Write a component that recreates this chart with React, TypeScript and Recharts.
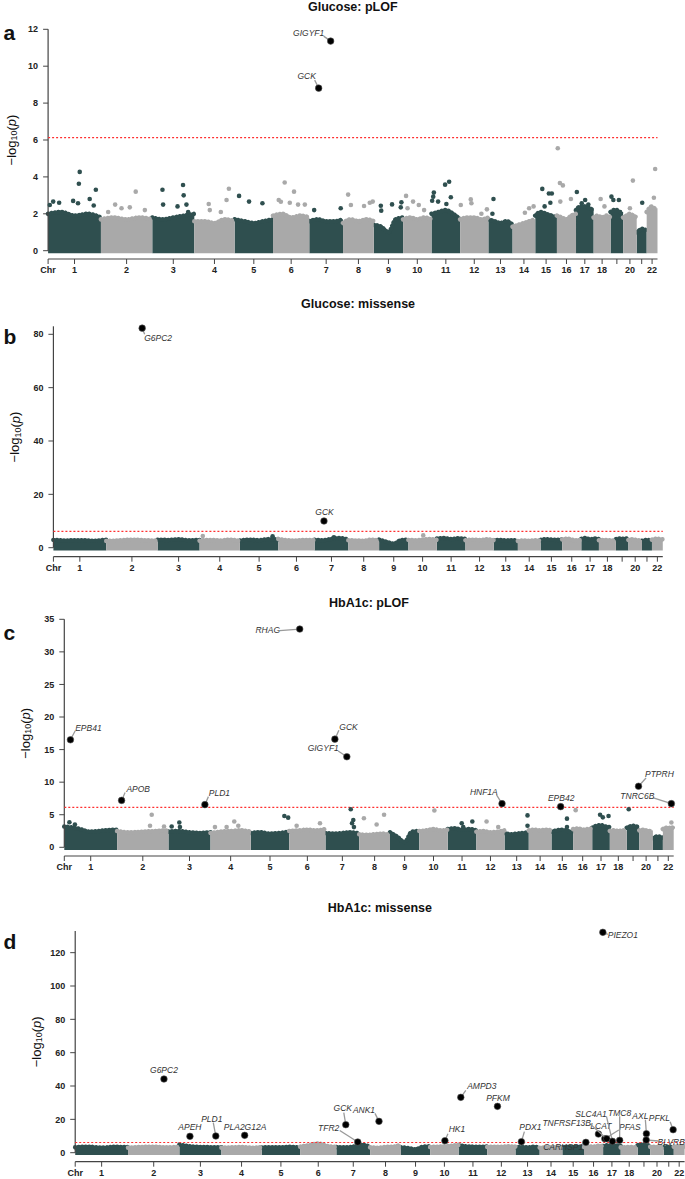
import React from 'react'
import { Area, ComposedChart, ReferenceLine, Scatter, XAxis, YAxis } from 'recharts'

const FONT = '"Liberation Sans", Arial, sans-serif'
const DARK = '#2f4f4f'
const GRAY = '#a9a9a9'
const AXIS = '#444'

const chromosomes = ['1', '2', '3', '4', '5', '6', '7', '8', '9', '10', '11', '12', '13', '14', '15', '16', '17', '18', '19', '20', '21', '22']
const chromLengthsMb = [249, 242, 198, 190, 181, 171, 159, 145, 138, 134, 135, 133, 114, 107, 102, 90, 83, 80, 59, 64, 47, 51]
const hiddenChromLabels = ['19', '21']
const thresholdLog10P = 6.13

// a: Glucose pLOF — top of the dense cloud per chromosome (5 samples along each)
const glucosePlofProfile = [
  [2.0, 2.1, 1.9, 2.0, 1.8], [1.7, 1.8, 1.7, 1.8, 1.7], [1.8, 1.7, 1.8, 1.9, 2.0], [1.6, 1.6, 1.5, 1.7, 1.6],
  [1.7, 1.6, 1.5, 1.6, 1.7], [1.9, 2.0, 1.8, 1.9, 1.8], [1.6, 1.7, 1.6, 1.6, 1.7], [1.5, 1.7, 1.6, 1.7, 1.6],
  [1.4, 1.3, 1.0, 1.7, 1.8], [1.7, 1.8, 1.7, 1.8, 1.7], [2.0, 2.1, 2.2, 2.0, 1.7], [1.7, 1.8, 1.8, 1.7, 1.8],
  [1.7, 1.6, 1.5, 1.6, 1.4], [1.3, 1.4, 1.5, 1.6, 1.7], [1.9, 2.1, 2.0, 1.9, 1.8], [1.9, 1.8, 1.7, 1.9, 2.0],
  [2.2, 2.4, 2.4, 2.3, 2.2], [1.8, 1.9, 1.8, 1.9, 1.8], [2.1, 2.2, 2.2, 2.1, 2.1], [1.8, 1.9, 2.0, 1.9, 1.8],
  [1.0, 1.1, 1.2, 1.1, 1.2], [2.1, 2.3, 2.4, 2.3, 2.3],
]
const glucosePlofOutliers: [number, number][] = [
  [149, 4.27], [145, 3.63], [141, 2.57], [196, 2.8], [225, 3.3], [215, 2.45], [24, 2.66], [52, 2.6], [118, 2.7], [8, 2.48],
  [413, 3.2], [316, 2.5], [346, 2.3], [385, 2.35], [456, 2.2], [283, 2.1],
  [539, 3.3], [542, 2.5], [636, 3.56], [639, 3.0], [652, 2.5], [660, 2.1], [610, 2.4],
  [852, 3.36], [841, 2.75], [757, 2.53], [762, 2.2], [814, 2.1],
  [900, 2.97], [947, 2.66], [1010, 2.57],
  [1115, 3.7], [1159, 3.2], [1087, 2.75], [1097, 2.65], [1139, 2.6], [1178, 2.5], [1210, 2.5],
  [1379, 2.3], [1254, 2.2],
  [1414, 3.04], [1427, 2.48], [1489, 2.42], [1516, 2.6], [1530, 2.66],
  [1568, 2.44], [1570, 2.17], [1621, 2.51], [1665, 2.62], [1662, 2.35],
  [1687, 2.97], [1720, 2.66], [1747, 2.48], [1694, 2.3], [1772, 2.2],
  [1890, 3.74], [1871, 3.58], [1818, 3.15], [1815, 2.93], [1838, 2.66], [1877, 2.53], [1898, 2.9], [1810, 2.71],
  [1945, 2.48], [1992, 2.78], [1995, 2.57], [2068, 2.24], [2042, 2.0],
  [2099, 2.8], [2094, 2.0],
  [2267, 2.3], [2288, 2.4], [2247, 2.06],
  [2329, 3.35], [2360, 3.1], [2374, 3.1], [2367, 2.6], [2340, 2.4],
  [2402, 5.55], [2412, 3.67], [2426, 3.54], [2414, 2.66], [2464, 2.8],
  [2492, 3.18], [2531, 2.75], [2546, 2.5], [2515, 2.57],
  [2604, 2.8], [2622, 2.4],
  [2655, 2.93], [2664, 2.75], [2690, 2.75],
  [2756, 3.8], [2742, 2.3],
  [2800, 2.6],
  [2861, 4.43], [2855, 2.87],
]
const glucosePlofHits: [string, number, number][] = [
  ['GIGYF1', 1331.6, 11.36],
  ['GCK', 1275.2, 8.81],
]

// b: Glucose missense
const glucoseMissenseProfile = [
  [2.9, 2.7, 2.8, 2.6, 3.0], [2.5, 2.7, 3.0, 2.8, 2.6], [3.0, 2.9, 3.1, 2.8, 2.9], [2.6, 2.9, 2.7, 3.0, 2.5],
  [2.7, 3.0, 2.8, 3.2, 3.0], [3.3, 2.8, 2.7, 2.9, 2.8], [3.0, 2.8, 3.3, 3.6, 3.0], [2.8, 2.7, 2.6, 3.0, 2.6],
  [3.0, 2.2, 1.5, 2.8, 3.0], [2.9, 2.8, 3.0, 3.2, 2.9], [3.4, 3.6, 3.2, 3.5, 3.3], [2.8, 3.0, 2.9, 3.1, 2.8],
  [2.8, 2.9, 2.7, 2.8, 2.6], [2.5, 2.7, 2.6, 2.8, 2.6], [2.9, 3.2, 3.0, 2.9, 3.1], [3.1, 3.4, 3.0, 2.8, 2.9],
  [3.3, 3.6, 3.1, 3.4, 3.2], [2.8, 2.9, 2.8, 2.7, 2.8], [3.2, 3.4, 3.3, 3.5, 3.0], [2.9, 3.1, 3.0, 2.8, 2.9],
  [2.6, 2.8, 2.9, 2.8, 2.7], [3.0, 3.3, 3.4, 3.2, 3.1],
]
const glucoseMissenseOutliers: [number, number][] = [
  [704, 4.4], [1033, 4.3], [1743, 4.6], [1322, 3.9],
]
const glucoseMissenseHits: [string, number, number][] = [
  ['G6PC2', 418.3, 82.3],
  ['GCK', 1275.2, 10.0],
]

// c: HbA1c pLOF
const hba1cPlofProfile = [
  [3.2, 2.9, 2.4, 2.6, 2.7], [2.5, 2.3, 2.4, 2.5, 2.6], [2.4, 2.5, 2.3, 2.2, 2.3], [2.2, 2.4, 2.5, 2.6, 2.4],
  [2.2, 2.3, 2.1, 2.2, 2.4], [2.5, 2.6, 2.7, 2.6, 2.8], [2.2, 2.1, 2.2, 2.3, 2.1], [2.0, 1.9, 2.0, 2.1, 1.9],
  [2.3, 1.6, 0.8, 2.4, 2.5], [2.5, 2.6, 2.8, 2.6, 2.7], [2.8, 2.9, 2.7, 2.8, 2.6], [2.4, 2.5, 2.3, 2.4, 2.6],
  [2.2, 2.0, 2.1, 2.2, 2.3], [2.6, 2.7, 2.6, 2.7, 2.6], [2.4, 2.6, 2.7, 2.5, 2.4], [2.8, 2.9, 2.7, 2.8, 2.9],
  [3.0, 3.3, 3.4, 3.2, 3.1], [2.5, 2.6, 2.5, 2.6, 2.5], [3.0, 3.2, 3.3, 3.2, 3.0], [2.6, 2.7, 2.6, 2.5, 2.6],
  [1.4, 1.6, 1.7, 1.6, 1.5], [2.8, 3.0, 2.9, 3.1, 2.9],
]
const hba1cPlofOutliers: [number, number][] = [
  [24, 3.85], [50, 3.5],
  [412, 5.0], [404, 3.3], [470, 3.2],
  [506, 3.2], [542, 3.8], [545, 3.1],
  [801, 3.95], [765, 3.1], [710, 3.1], [820, 3.3],
  [1037, 4.8], [1055, 4.55],
  [1205, 3.7], [1095, 3.3],
  [1350, 5.85], [1362, 4.2], [1356, 3.7], [1365, 3.1],
  [1412, 4.45], [1472, 3.5], [1507, 5.0],
  [1744, 5.65],
  [1873, 3.7], [1923, 3.95], [1880, 3.1],
  [1990, 3.95], [2045, 3.1],
  [2183, 4.9], [2183, 3.3],
  [2369, 4.4], [2369, 3.1],
  [2410, 5.7],
  [2525, 5.0], [2538, 4.6], [2565, 4.8],
  [2660, 5.85],
  [2861, 3.8],
]
const hba1cPlofHits: [string, number, number][] = [
  ['RHAG', 1109.6, 33.5],
  ['EPB41', 28.9, 16.5],
  ['GCK', 1275.2, 16.6],
  ['GIGYF1', 1331.6, 13.9],
  ['APOB', 270.0, 7.2],
  ['PLD1', 662.6, 6.55],
  ['HNF1A', 2062.9, 6.7],
  ['EPB42', 2339.2, 6.24],
  ['PTPRH', 2706.2, 9.37],
  ['TNRC6B', 2861.0, 6.7],
]

// d: HbA1c missense
const hba1cMissenseProfile = [
  [3.2, 3.6, 3.0, 3.5, 3.3], [3.0, 3.4, 3.6, 3.2, 3.5], [4.8, 3.8, 3.4, 3.3, 3.2], [3.0, 3.2, 3.4, 3.0, 3.3],
  [3.1, 3.3, 3.2, 3.5, 3.0], [3.6, 4.5, 5.5, 4.0, 3.5], [3.4, 3.2, 3.6, 4.8, 3.4], [3.2, 3.0, 3.5, 3.6, 5.0],
  [3.3, 2.8, 2.0, 3.5, 3.8], [3.4, 3.6, 3.8, 4.2, 4.6], [4.6, 3.8, 3.6, 3.5, 3.7], [3.4, 3.6, 3.5, 3.8, 3.6],
  [3.3, 3.4, 3.2, 3.5, 3.3], [3.0, 3.2, 3.3, 3.4, 3.2], [3.3, 3.6, 3.4, 3.5, 3.3], [3.5, 3.8, 3.6, 4.2, 3.8],
  [4.0, 4.5, 4.2, 4.3, 4.0], [3.2, 3.3, 3.4, 3.3, 3.2], [4.5, 4.8, 5.0, 4.6, 4.2], [3.5, 3.6, 3.4, 3.5, 3.6],
  [3.2, 3.4, 3.5, 3.3, 3.2], [3.6, 3.8, 3.9, 3.8, 3.7],
]
const hba1cMissenseOutliers: [number, number][] = []
const hba1cMissenseHits: [string, number, number][] = [
  ['PIEZO1', 2486.7, 132.2],
  ['G6PC2', 418.3, 44.2],
  ['APEH', 540.7, 9.8],
  ['PLD1', 662.6, 10.0],
  ['PLA2G12A', 798.7, 10.4],
  ['GCK', 1275.2, 16.8],
  ['ANK1', 1431.7, 18.8],
  ['TFR2', 1331.6, 6.4],
  ['HK1', 1742.4, 7.2],
  ['AMPD3', 1817.3, 33.2],
  ['PFKM', 1990.1, 27.8],
  ['PDX1', 2102.9, 6.6],
  ['CARHSP1', 2406.9, 6.2],
  ['LCAT', 2465.9, 11.2],
  ['PFAS', 2496.0, 8.4],
  ['TNFRSF13B', 2505.0, 8.4],
  ['SLC4A1', 2532.0, 6.8],
  ['TMC8', 2566.0, 7.4],
  ['AXL', 2692.0, 11.4],
  ['BLVRB', 2691.0, 7.6],
  ['PFKL', 2818.0, 13.8],
]

// label text offset [dx, dy] and connector start [cdx, cdy], px from the point
const labelPlacement: Record<string, number[]> = {
  'a:GIGYF1': [-22, -8, -7, -5],
  'a:GCK': [-12, -12, -4, -8],
  'b:G6PC2': [16, 9.5, 2.5, 6],
  'b:GCK': [0.5, -9.5],
  'c:RHAG': [-32, 1.3, -20, 1.5],
  'c:EPB41': [18, -12, 4.8, -9],
  'c:GCK': [13.7, -12.3, 4, -9],
  'c:GIGYF1': [-23.6, -8.4, -8.7, -5.7],
  'c:APOB': [16.6, -11.7, 3.5, -8],
  'c:PLD1': [14.5, -11.7, 3.5, -8],
  'c:HNF1A': [-18.2, -12, -5.5, -8.7],
  'c:EPB42': [0.5, -8.7],
  'c:PTPRH': [20.9, -12.3, 7.5, -8.3],
  'c:TNRC6B': [-34, -7.7, -18, -5.7],
  'd:PIEZO1': [20, 3, 5, 2],
  'd:G6PC2': [0, -9],
  'd:APEH': [0, -9],
  'd:PLD1': [-4, -17, -2.5, -13.5],
  'd:PLA2G12A': [0.4, -8.5],
  'd:GCK': [-3, -16.5, -2, -12],
  'd:ANK1': [-15, -11, -4, -8],
  'd:TFR2': [-29, -14.3, -18, -11.5],
  'd:HK1': [12, -11.7, 3, -7],
  'd:AMPD3': [21, -11.6, 5, -7],
  'd:PFKM': [0.5, -8.3],
  'd:PDX1': [9, -15, 3, -10],
  'd:CARHSP1': [-22.7, 5, -4, 2],
  'd:LCAT': [2.4, -8.3],
  'd:PFAS': [25, -11.4, 14, -8.7],
  'd:TNFRSF13B': [-40, -16, -16.6, -14.7],
  'd:SLC4A1': [-21.4, -27.6, -6, -25],
  'd:TMC8': [0, -27.6, 0, -24],
  'd:AXL': [-6, -17.7, -1, -14],
  'd:BLVRB': [25, 2.3, 12, 1],
  'd:PFKL': [-13.7, -12, -3, -8],
}

const chromStarts: number[] = []
chromLengthsMb.reduce((acc, len) => {
  chromStarts.push(acc)
  return acc + len
}, 0)
const genomeLength = chromLengthsMb.reduce((a, b) => a + b, 0)
const chromCenters = chromStarts.map((s, i) => s + chromLengthsMb[i] / 2)
const xTicks = [0, ...chromCenters]

function chromIndexAt(pos: number) {
  let idx = 0
  chromStarts.forEach((s, i) => {
    if (pos >= s) idx = i
  })
  return idx
}

function buildCloud(profile: number[][]) {
  const rows: any[] = []
  profile.forEach((heights, i) => {
    const key = i % 2 === 0 ? 'dark' : 'gray'
    heights.forEach((h, k) => {
      rows.push({ x: chromStarts[i] + (chromLengthsMb[i] * k) / (heights.length - 1), [key]: h })
    })
  })
  return rows
}

const panels = [
  {
    id: 'a', title: 'Glucose: pLOF', profile: glucosePlofProfile, outliers: glucosePlofOutliers, hits: glucosePlofHits,
    yMax: 12, yTicks: [0, 2, 4, 6, 8, 10, 12], floor: -0.14,
    top: 0, plotTop: 29.3, zeroY: 250.7, axisY: 259, plotLeft: 48.1, plotRight: 657.5,
    titleY: 7, letterY: 40, ylabX: 11,
  },
  {
    id: 'b', title: 'Glucose: missense', profile: glucoseMissenseProfile, outliers: glucoseMissenseOutliers, hits: glucoseMissenseHits,
    yMax: 83, yTicks: [0, 20, 40, 60, 80], floor: -1.1,
    top: 290, plotTop: 326.3, zeroY: 547.7, axisY: 556.7, plotLeft: 53.4, plotRight: 662.8,
    titleY: 303.5, letterY: 343.5, ylabX: 14.5,
  },
  {
    id: 'c', title: 'HbA1c: pLOF', profile: hba1cPlofProfile, outliers: hba1cPlofOutliers, hits: hba1cPlofHits,
    yMax: 35, yTicks: [0, 5, 10, 15, 20, 25, 30, 35], floor: -0.4,
    top: 580, plotTop: 619.3, zeroY: 847.3, axisY: 856, plotLeft: 64.3, plotRight: 673.7,
    titleY: 603, letterY: 639.5, ylabX: 25,
  },
  {
    id: 'd', title: 'HbA1c: missense', profile: hba1cMissenseProfile, outliers: hba1cMissenseOutliers, hits: hba1cMissenseHits,
    yMax: 133, yTicks: [0, 20, 40, 60, 80, 100, 120], floor: -1.4,
    top: 880, plotTop: 931, zeroY: 1152.7, axisY: 1161.7, plotLeft: 75.2, plotRight: 684.6,
    titleY: 908, letterY: 948.5, ylabX: 36,
  },
]

function HitMark(props: any) {
  const { cx, cy, payload } = props
  if (cx == null || cy == null || !payload || !payload.name) return null
  const place = labelPlacement[payload.key] || [0, -9]
  const [dx, dy, cdx, cdy] = place
  return (
    <g>
      {cdx !== undefined && (
        <line x1={cx + cdx} y1={cy + cdy} x2={cx} y2={cy} stroke="#9a9a9a" strokeWidth={1.3} />
      )}
      <circle cx={cx} cy={cy} r={3.3} fill="#000" stroke="#555" strokeWidth={0.6} />
      <text
        x={cx + dx}
        y={cy + dy}
        textAnchor="middle"
        dominantBaseline="central"
        fontSize={8.5}
        fontStyle="italic"
        fontFamily={FONT}
        fill="#333"
      >
        {payload.name}
      </text>
    </g>
  )
}

const dot = (color: string) => (props: any) =>
  props.cx == null || props.cy == null || Number.isNaN(props.cy) ? null : (
    <circle cx={props.cx} cy={props.cy} r={2.3} fill={color} />
  )

function ManhattanPanel({ p }: { p: (typeof panels)[number] }) {
  const cloud = buildCloud(p.profile)
  const outliers = p.outliers.map(([x, y]) => ({ x, y, odd: chromIndexAt(x) % 2 === 0 }))
  const darkOutliers = outliers.filter((o) => o.odd)
  const grayOutliers = outliers.filter((o) => !o.odd)
  const hits = p.hits.map(([name, x, y]) => ({ x, y, name, key: `${p.id}:${name}` }))
  const yMin = -((p.axisY - p.zeroY) * p.yMax) / (p.zeroY - p.plotTop)
  const yAxisWidth = 40
  const xAxisHeight = 18
  const tickStyle = { fontSize: 9, fontWeight: 700, fill: '#222', fontFamily: FONT }

  return (
    <div style={{ position: 'absolute', left: 0, top: p.top }}>
      <ComposedChart
        width={685}
        height={p.axisY - p.top + xAxisHeight}
        data={cloud}
        margin={{ top: p.plotTop - p.top, right: 685 - p.plotRight, bottom: 0, left: p.plotLeft - yAxisWidth }}
      >
        <XAxis
          type="number"
          dataKey="x"
          domain={[0, genomeLength]}
          ticks={xTicks}
          interval={0}
          height={xAxisHeight}
          tickSize={5}
          tickMargin={3}
          tick={tickStyle}
          axisLine={{ stroke: AXIS, strokeWidth: 1.2 }}
          tickLine={{ stroke: AXIS }}
          tickFormatter={(v: number) => {
            if (v === 0) return 'Chr'
            const i = chromCenters.indexOf(v)
            const name = chromosomes[i]
            return hiddenChromLabels.includes(name) ? '' : name
          }}
        />
        <YAxis
          type="number"
          domain={[yMin, p.yMax]}
          ticks={p.yTicks}
          interval={0}
          width={yAxisWidth}
          tickSize={5}
          tickMargin={5}
          tick={tickStyle}
          axisLine={false}
          tickLine={{ stroke: AXIS }}
        />
        <Area
          dataKey="dark"
          type="monotone"
          fill={DARK}
          fillOpacity={1}
          stroke={DARK}
          strokeWidth={4.6}
          strokeDasharray="0.1 3.4"
          strokeLinecap="round"
          baseValue={p.floor}
          connectNulls={false}
          dot={false}
          activeDot={false}
          isAnimationActive={false}
        />
        <Area
          dataKey="gray"
          type="monotone"
          fill={GRAY}
          fillOpacity={1}
          stroke={GRAY}
          strokeWidth={4.6}
          strokeDasharray="0.1 3.4"
          strokeLinecap="round"
          baseValue={p.floor}
          connectNulls={false}
          dot={false}
          activeDot={false}
          isAnimationActive={false}
        />
        {darkOutliers.length > 0 && (
          <Scatter data={darkOutliers} dataKey="y" shape={dot(DARK)} isAnimationActive={false} />
        )}
        {grayOutliers.length > 0 && (
          <Scatter data={grayOutliers} dataKey="y" shape={dot(GRAY)} isAnimationActive={false} />
        )}
        <ReferenceLine
          segment={[{ x: 0, y: 0 }, { x: 0, y: p.yMax }]}
          stroke={AXIS}
          strokeWidth={1.2}
          ifOverflow="visible"
        />
        <ReferenceLine y={thresholdLog10P} stroke="#ff3030" strokeDasharray="2 2" strokeWidth={1.1} />
        <Scatter data={hits} dataKey="y" shape={HitMark} isAnimationActive={false} />
      </ComposedChart>
    </div>
  )
}

export default function App() {
  return (
    <div style={{ position: 'absolute', left: 0, top: 0, width: 685, height: 1179, overflow: 'hidden', background: '#fff' }}>
      <svg width={685} height={1179} style={{ position: 'absolute', left: 0, top: 0 }}>
        {panels.map((p) => {
          const midY = (p.plotTop + p.zeroY) / 2
          return (
            <g key={p.id} fontFamily={FONT} fill="#111">
              <text
                x={(p.plotLeft + p.plotRight) / 2}
                y={p.titleY}
                textAnchor="middle"
                dominantBaseline="central"
                fontSize={12.5}
                fontWeight={700}
              >
                {p.title}
              </text>
              <text x={3.5} y={p.letterY} fontSize={21} fontWeight={700}>
                {p.id}
              </text>
              <text
                transform={`translate(${p.ylabX},${midY}) rotate(-90)`}
                textAnchor="middle"
                dominantBaseline="central"
                fontSize={13}
              >
                −log
                <tspan fontSize={9} dy={3}>10</tspan>
                <tspan dy={-3}>(</tspan>
                <tspan fontStyle="italic">p</tspan>)
              </text>
            </g>
          )
        })}
      </svg>
      {panels.map((p) => (
        <ManhattanPanel key={p.id} p={p} />
      ))}
    </div>
  )
}
